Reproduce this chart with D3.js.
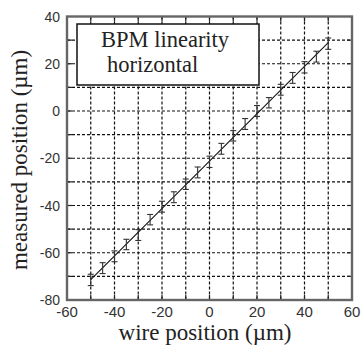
<!DOCTYPE html>
<html><head><meta charset="utf-8">
<script src="https://cdn.jsdelivr.net/npm/d3@7"></script>
<style>
html,body{margin:0;padding:0;background:#fff;}
svg{display:block;}
</style></head>
<body>
<svg id="chart" width="362" height="347"></svg>
<script>
// Data
const wirePos = [-50,-45,-40,-35,-30,-25,-20,-15,-10,-5,0,5,10,15,20,25,30,35,40,45,50];
const measuredPos = [-71.5,-66.5,-61.5,-56.5,-52.5,-46,-40.5,-36.5,-31,-26,-21.5,-16,-10.5,-5.5,0,3.5,9,14,18.5,23,28.5];
const errHalf = [2.4,2.3,2.3,2.2,2.3,2.2,2.3,2.3,2.2,2.3,2.4,2.3,2.2,2.3,2.3,2.2,2.3,2.3,2.4,2.3,2.4];
const xTicks = [-60,-40,-20,0,20,40,60];
const yTicks = [-80,-60,-40,-20,0,20,40];
const gridX = [-50,-40,-30,-20,-10,0,10,20,30,40,50];
const gridY = [-70,-60,-50,-40,-30,-20,-10,0,10,20,30];
const legendLines = ["BPM linearity","horizontal"];
const xTitle = "wire position (\u00b5m)";
const yTitle = "measured position (\u00b5m)";

const svg = d3.select("#chart");
const L=67, R=352, T=16.5, B=300;
const x = d3.scaleLinear().domain([-60,60]).range([L,R]);
const y = d3.scaleLinear().domain([-80,40]).range([B,T]);

// grid (dashed)
const g = svg.append("g");
g.selectAll(".gx").data(gridX).enter().append("line")
  .attr("x1",d=>x(d)).attr("x2",d=>x(d)).attr("y1",T).attr("y2",B)
  .attr("stroke","#111").attr("stroke-width",1.2).attr("stroke-dasharray","3,2");
g.selectAll(".gy").data(gridY).enter().append("line")
  .attr("y1",d=>y(d)).attr("y2",d=>y(d)).attr("x1",L).attr("x2",R)
  .attr("stroke","#111").attr("stroke-width",1.2).attr("stroke-dasharray","3,2");

// inward ticks on all sides
const tk = 5;
const allX = d3.range(-50,51,10), allY = d3.range(-70,31,10);
g.selectAll(".tb").data(allX).enter().append("line")
  .attr("x1",d=>x(d)).attr("x2",d=>x(d)).attr("y1",B).attr("y2",B-tk).attr("stroke","#222").attr("stroke-width",1.2);
g.selectAll(".tt").data(allX).enter().append("line")
  .attr("x1",d=>x(d)).attr("x2",d=>x(d)).attr("y1",T).attr("y2",T+tk).attr("stroke","#222").attr("stroke-width",1.2);
g.selectAll(".tl").data(allY).enter().append("line")
  .attr("y1",d=>y(d)).attr("y2",d=>y(d)).attr("x1",L).attr("x2",L+tk).attr("stroke","#222").attr("stroke-width",1.2);
g.selectAll(".tr").data(allY).enter().append("line")
  .attr("y1",d=>y(d)).attr("y2",d=>y(d)).attr("x1",R).attr("x2",R-tk).attr("stroke","#222").attr("stroke-width",1.2);

// frame
svg.append("rect").attr("x",L).attr("y",T).attr("width",R-L).attr("height",B-T)
  .attr("fill","none").attr("stroke","#666").attr("stroke-width",2.4);

// tick labels
svg.selectAll(".xl").data(xTicks).enter().append("text")
  .attr("x",d=>x(d)).attr("y",B+17).attr("text-anchor","middle")
  .attr("font-family","'Liberation Sans',Arial,sans-serif").attr("font-size",15).attr("fill","#333")
  .text(d=>d);
svg.selectAll(".yl").data(yTicks).enter().append("text")
  .attr("x",L-7).attr("y",d=>y(d)+5).attr("text-anchor","end")
  .attr("font-family","'Liberation Sans',Arial,sans-serif").attr("font-size",14).attr("fill","#333")
  .text(d=>d);

// fit line (least squares from data)
const n = wirePos.length;
const mx = d3.mean(wirePos), my = d3.mean(measuredPos);
let sxy=0, sxx=0;
for(let i=0;i<n;i++){ sxy+=(wirePos[i]-mx)*(measuredPos[i]-my); sxx+=(wirePos[i]-mx)**2; }
const slope = sxy/sxx, icpt = my - slope*mx;
const x0 = d3.min(wirePos), x1 = d3.max(wirePos);
svg.append("line").attr("x1",x(x0)).attr("y1",y(slope*x0+icpt)).attr("x2",x(x1)).attr("y2",y(slope*x1+icpt))
  .attr("stroke","#111").attr("stroke-width",1.1);

// error bars
const pts = wirePos.map((w,i)=>({w, m:measuredPos[i], e:errHalf[i]}));
const eb = svg.append("g").attr("stroke","#333").attr("stroke-width",1.1);
pts.forEach(p=>{
  eb.append("line").attr("x1",x(p.w)).attr("x2",x(p.w)).attr("y1",y(p.m-p.e)).attr("y2",y(p.m+p.e));
  eb.append("line").attr("x1",x(p.w)-3).attr("x2",x(p.w)+3).attr("y1",y(p.m-p.e)).attr("y2",y(p.m-p.e));
  eb.append("line").attr("x1",x(p.w)-3).attr("x2",x(p.w)+3).attr("y1",y(p.m+p.e)).attr("y2",y(p.m+p.e));
});

// legend box
svg.append("rect").attr("x",77).attr("y",24).attr("width",182).attr("height",61)
  .attr("fill","#fff").attr("stroke","#111").attr("stroke-width",1.5);
svg.append("text").attr("x",101).attr("y",47).attr("font-family","'Liberation Serif','Times New Roman',serif")
  .attr("font-size",22.5).attr("fill","#222").text(legendLines[0]);
svg.append("text").attr("x",107).attr("y",72).attr("font-family","'Liberation Serif','Times New Roman',serif")
  .attr("font-size",22.5).attr("fill","#222").text(legendLines[1]);

// axis titles
svg.append("text").attr("x",(115+295)/2).attr("y",340).attr("text-anchor","middle")
  .attr("font-family","'Liberation Serif','Times New Roman',serif").attr("font-size",23).attr("fill","#222")
  .text(xTitle);
svg.append("text").attr("transform","translate(27,160) rotate(-90)").attr("text-anchor","middle")
  .attr("font-family","'Liberation Serif','Times New Roman',serif").attr("font-size",23).attr("fill","#222")
  .text(yTitle);
</script>
</body></html>
